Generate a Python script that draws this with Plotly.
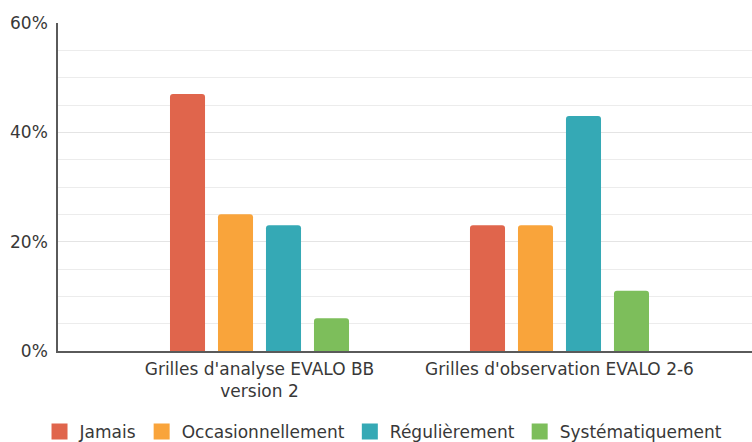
import plotly.graph_objects as go

categories = ["Grilles d'analyse EVALO BB<br>version 2", "Grilles d'observation EVALO 2-6"]
series_names = ["Jamais", "Occasionnellement", "Régulièrement", "Systématiquement"]
series_values = [
    [47, 23],
    [25, 23],
    [23, 43],
    [6, 11],
]
colors = ["#E0654C", "#F9A43B", "#35A9B5", "#7DBE5B"]
y_ticks = [0, 20, 40, 60]
y_tick_labels = ["0%", "20%", "40%", "60%"]

FONT = "DejaVu Sans, Liberation Sans, Arial, sans-serif"
TEXT = "#383838"

fig = go.Figure()
for name, vals, col in zip(series_names, series_values, colors):
    fig.add_trace(go.Bar(
        x=categories, y=vals, name=name, marker=dict(color=col, line=dict(width=0)),
        showlegend=False, hoverinfo="skip",
    ))
# Legend entries drawn as larger square swatches
for name, col in zip(series_names, colors):
    fig.add_trace(go.Scatter(
        x=[None], y=[None], mode="markers", name=name,
        marker=dict(symbol="square", size=18, color=col),
    ))

fig.update_layout(
    width=752, height=442,
    margin=dict(l=58, r=0, t=23, b=91, autoexpand=False),
    paper_bgcolor="white", plot_bgcolor="white",
    barmode="group", bargap=0.36, bargroupgap=0.27, barcornerradius=3,
    font=dict(family=FONT, color=TEXT, size=17),
    xaxis=dict(
        type="category", range=[-0.6717, 1.6417],
        showline=True, linecolor="#5A5A5A", linewidth=1.5,
        showgrid=False, ticks="", tickfont=dict(size=17, color=TEXT),
        ticklabelstandoff=2,
    ),
    yaxis=dict(
        range=[0, 60], tickvals=y_ticks, ticktext=y_tick_labels,
        showline=True, linecolor="#5A5A5A", linewidth=1.5,
        showgrid=True, gridcolor="#E4E4E4", gridwidth=1,
        minor=dict(dtick=5, showgrid=True, gridcolor="#ECECEC", gridwidth=1),
        zeroline=False, ticks="", tickfont=dict(size=17, color=TEXT),
        ticklabelstandoff=5,
    ),
    legend=dict(
        orientation="h", xref="container", x=0.51, xanchor="center",
        yref="container", y=0.023, yanchor="middle",
        font=dict(size=17, color=TEXT), itemwidth=30,
        traceorder="normal",
    ),
)

fig.write_html("out.html")
